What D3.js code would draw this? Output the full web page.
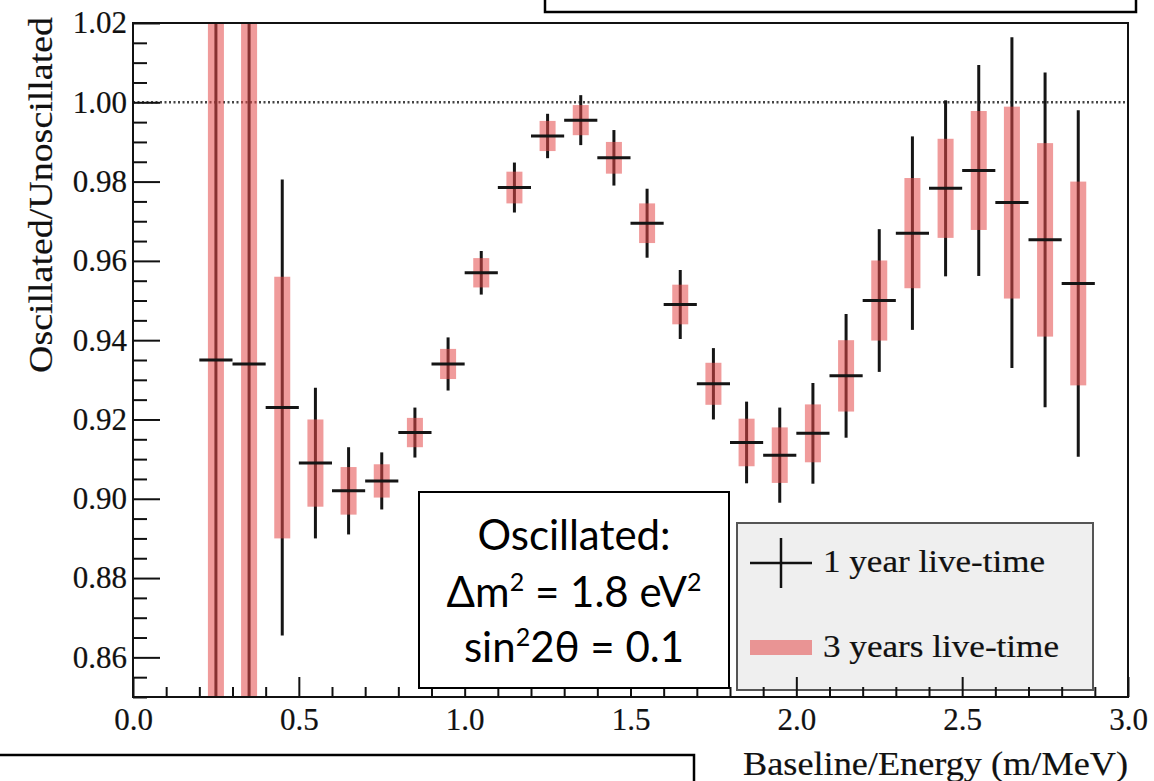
<!DOCTYPE html>
<html><head><meta charset="utf-8">
<script src="https://cdn.jsdelivr.net/npm/d3@7"></script>
<style>body{margin:0;background:#fff;} svg{display:block;}</style>
</head><body>
<svg id="c" width="1154" height="781"></svg>
<script>
// ---- data ----
const binCenters = [0.25,0.35,0.45,0.55,0.65,0.75,0.85,0.95,1.05,1.15,1.25,1.35,1.45,1.55,1.65,1.75,1.85,1.95,2.05,2.15,2.25,2.35,2.45,2.55,2.65,2.75,2.85];
const ratioValues = [0.935,0.934,0.923,0.909,0.902,0.9045,0.9167,0.934,0.957,0.9785,0.9915,0.9955,0.986,0.9695,0.949,0.929,0.9142,0.911,0.9165,0.931,0.950,0.967,0.9783,0.9828,0.9747,0.9653,0.9543];
const err1Year = [0.25,0.25,0.0575,0.019,0.011,0.0072,0.0063,0.0067,0.0055,0.0063,0.0056,0.0063,0.007,0.0087,0.0087,0.009,0.0103,0.012,0.0127,0.0156,0.018,0.0244,0.0222,0.0266,0.0417,0.0422,0.0437];
const err3Years = [0.2,0.2,0.033,0.011,0.006,0.0042,0.0037,0.0038,0.0037,0.004,0.0038,0.0038,0.004,0.005,0.005,0.0053,0.006,0.007,0.0073,0.009,0.0101,0.0139,0.0125,0.015,0.0242,0.0244,0.0257];
const binWidth = 0.1;
const yTickValues = [0.86,0.88,0.90,0.92,0.94,0.96,0.98,1.00,1.02];
const xTickValues = [0.0,0.5,1.0,1.5,2.0,2.5,3.0];
const legendLabels = ["1 year live-time","3 years live-time"];
const xTitle = "Baseline/Energy (m/MeV)";
const yTitle = "Oscillated/Unoscillated";

// ---- layout ----
const L = 133, R = 1128, T = 23, B = 697;
const svg = d3.select("#c");
const x = d3.scaleLinear().domain([0,3]).range([L,R]);
const y = d3.scaleLinear().domain([0.85,1.02]).range([B,T]);
const pts = binCenters.map((c,i)=>({c, v:ratioValues[i], e1:err1Year[i], e3:err3Years[i]}));

svg.append("defs").append("clipPath").attr("id","clip")
  .append("rect").attr("x",L).attr("y",T).attr("width",R-L).attr("height",B-T);

const serif = "'Liberation Serif','Times New Roman',serif";
const pinkFill = "rgb(228,73,73)", pinkOp = 0.55;
const textStroke = 0.2;

const g = svg.append("g").attr("clip-path","url(#clip)");
// reference line at 1
g.append("line").attr("x1",L).attr("x2",R).attr("y1",y(1)).attr("y2",y(1))
  .attr("stroke","#444").attr("stroke-width",2.5).attr("stroke-dasharray","2,2.5");
// 1-year vertical error bars
g.selectAll("line.v1").data(pts).enter().append("line")
  .attr("x1",d=>x(d.c)).attr("x2",d=>x(d.c))
  .attr("y1",d=>y(d.v+d.e1)).attr("y2",d=>y(d.v-d.e1))
  .attr("stroke","#151515").attr("stroke-width",3);
// 3-year bands
g.selectAll("rect.b3").data(pts).enter().append("rect")
  .attr("x",d=>x(d.c)-8).attr("width",16)
  .attr("y",d=>y(d.v+d.e3)).attr("height",d=>y(d.v-d.e3)-y(d.v+d.e3))
  .attr("fill",pinkFill).attr("fill-opacity",pinkOp);
// horizontal bin bars
g.selectAll("line.h").data(pts).enter().append("line")
  .attr("x1",d=>x(d.c-binWidth/2)).attr("x2",d=>x(d.c+binWidth/2))
  .attr("y1",d=>y(d.v)).attr("y2",d=>y(d.v))
  .attr("stroke","#151515").attr("stroke-width",3);

// legend
const lg = svg.append("g");
lg.append("rect").attr("x",737).attr("y",523).attr("width",356).attr("height",167)
  .attr("fill","#efefef").attr("stroke","#555").attr("stroke-width",2);
lg.append("line").attr("x1",750).attr("x2",812).attr("y1",563).attr("y2",563).attr("stroke","#111").attr("stroke-width",2.5);
lg.append("line").attr("x1",781).attr("x2",781).attr("y1",538).attr("y2",588).attr("stroke","#111").attr("stroke-width",2.5);
lg.append("rect").attr("x",750).attr("y",640).attr("width",62).attr("height",15).attr("fill",pinkFill).attr("fill-opacity",pinkOp);
lg.append("text").attr("x",823).attr("y",572).text(legendLabels[0]).attr("font-family",serif).attr("font-size",31)
  .attr("textLength",222).attr("lengthAdjust","spacingAndGlyphs").attr("fill","#111").attr("stroke","#111").attr("stroke-width",textStroke);
lg.append("text").attr("x",823).attr("y",657).text(legendLabels[1]).attr("font-family",serif).attr("font-size",31)
  .attr("textLength",236).attr("lengthAdjust","spacingAndGlyphs").attr("fill","#111").attr("stroke","#111").attr("stroke-width",textStroke);

// axes
const fmtY = d3.format(".2f"), fmtX = d3.format(".1f");
const yMinor = d3.range(0,35).map(i=>0.85+i*0.005).filter(v=>v<=1.0201 && Math.abs(((v-0.86)/0.02)-Math.round((v-0.86)/0.02))>1e-6);
const xMinor = d3.range(0,31).map(i=>i*0.1).filter(v=>Math.abs(v/0.5-Math.round(v/0.5))>1e-6);

const ay = svg.append("g").attr("transform",`translate(${L},0)`)
  .call(d3.axisLeft(y).tickValues(yTickValues).tickFormat(fmtY).tickSizeInner(-27).tickSizeOuter(0).tickPadding(6));
const ayMinor = svg.append("g").attr("transform",`translate(${L},0)`)
  .call(d3.axisLeft(y).tickValues(yMinor).tickFormat("").tickSizeInner(-14).tickSizeOuter(0));
const ax = svg.append("g").attr("transform",`translate(0,${B})`)
  .call(d3.axisBottom(x).tickValues(xTickValues).tickFormat(fmtX).tickSizeInner(-20).tickSizeOuter(0).tickPadding(11));
const axMinor = svg.append("g").attr("transform",`translate(0,${B})`)
  .call(d3.axisBottom(x).tickValues(xMinor).tickFormat("").tickSizeInner(-10).tickSizeOuter(0));
[ay,ayMinor,ax,axMinor].forEach(a=>{
  a.select(".domain").remove();
  a.selectAll(".tick line").attr("stroke","#111").attr("stroke-width",2);
  a.selectAll("text").attr("font-family",serif).attr("font-size",31).attr("fill","#111")
    .attr("stroke","#111").attr("stroke-width",textStroke);
});

// frame
svg.append("rect").attr("x",L).attr("y",T).attr("width",R-L).attr("height",B-T)
  .attr("fill","none").attr("stroke","#111").attr("stroke-width",2);

// titles
svg.append("text").attr("transform","translate(52,17) rotate(-90)").attr("text-anchor","end")
  .attr("textLength",356).attr("lengthAdjust","spacingAndGlyphs")
  .text(yTitle).attr("font-family",serif).attr("font-size",34).attr("fill","#111").attr("stroke","#111").attr("stroke-width",textStroke);
svg.append("text").attr("x",R).attr("y",775).attr("text-anchor","end")
  .attr("textLength",385).attr("lengthAdjust","spacingAndGlyphs")
  .text(xTitle).attr("font-family",serif).attr("font-size",34).attr("fill","#111").attr("stroke","#111").attr("stroke-width",textStroke);

// slide overlays
const sans = "Lato,'Open Sans',sans-serif";
svg.append("rect").attr("x",545).attr("y",-10).attr("width",591).attr("height",22)
  .attr("fill","#fff").attr("stroke","#000").attr("stroke-width",2.5);
svg.append("rect").attr("x",-5).attr("y",755).attr("width",699).attr("height",60)
  .attr("fill","#fff").attr("stroke","#000").attr("stroke-width",2.5);
const ob = svg.append("g");
ob.append("rect").attr("x",419).attr("y",492).attr("width",310).attr("height",196)
  .attr("fill","#fff").attr("stroke","#000").attr("stroke-width",2);
const cx = 574;
const t1 = ob.append("text").attr("x",cx).attr("y",550).attr("text-anchor","middle").attr("font-family",sans).attr("font-size",42).attr("fill","#000");
t1.text("Oscillated:");
const t2 = ob.append("text").attr("x",cx).attr("y",607).attr("text-anchor","middle").attr("font-family",sans).attr("font-size",42).attr("fill","#000");
t2.append("tspan").text("Δm");
t2.append("tspan").attr("font-size",25).attr("dy",-16).text("2");
t2.append("tspan").attr("dy",16).text(" = 1.8 eV");
t2.append("tspan").attr("font-size",25).attr("dy",-16).text("2");
const t3 = ob.append("text").attr("x",cx).attr("y",662).attr("text-anchor","middle").attr("font-family",sans).attr("font-size",42).attr("fill","#000");
t3.append("tspan").text("sin");
t3.append("tspan").attr("font-size",25).attr("dy",-16).text("2");
t3.append("tspan").attr("dy",16).text("2θ = 0.1");
</script>
</body></html>
